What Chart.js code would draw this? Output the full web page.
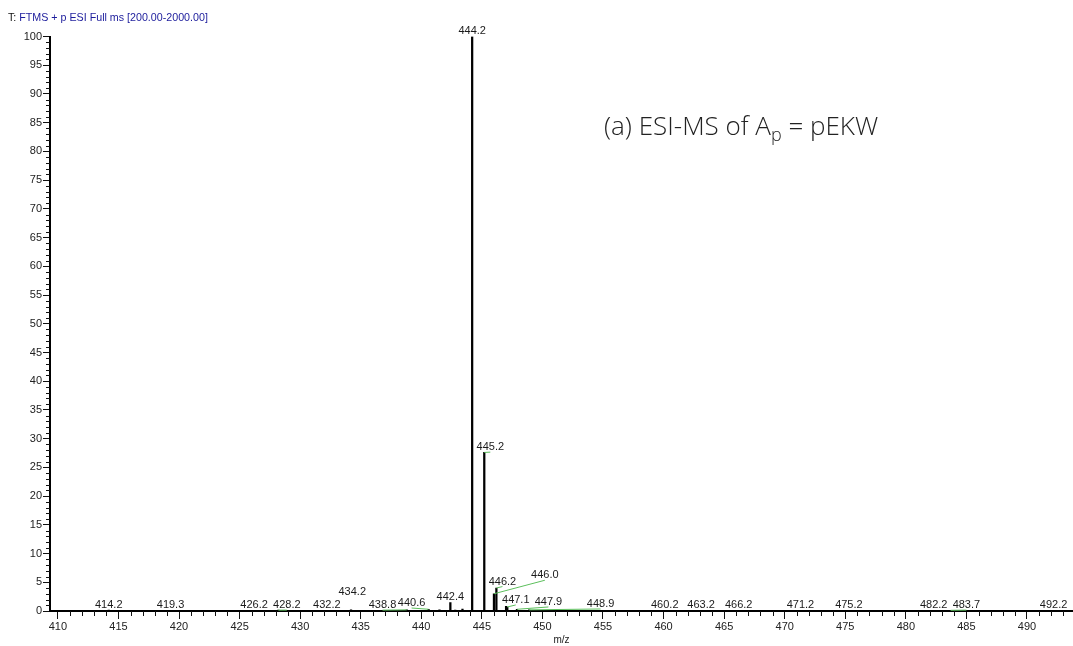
<!DOCTYPE html>
<html>
<head>
<meta charset="utf-8">
<title>ESI-MS spectrum</title>
<script src="https://cdn.jsdelivr.net/npm/chart.js@4/dist/chart.umd.min.js"></script>
<style>
  html, body { margin: 0; padding: 0; background: #fff; }
  #wrap { position: relative; width: 1073px; height: 646px; }
  #spec { position: absolute; left: 0; top: 0; }
  #scan {
    position: absolute; left: 8px; top: 11px;
    font: 10.7px "Liberation Sans", Arial, sans-serif; color: #1c1c9c; white-space: nowrap;
  }
  #scan b { font-weight: normal; color: #111; }
  #caption {
    position: absolute; left: 604px; top: 112px;
    font: 300 26px "Open Sans", sans-serif; color: #222; white-space: nowrap; line-height: 1;
  }
  #caption sub { font-size: 18px; vertical-align: -6px; line-height: 0; }
</style>
</head>
<body>
<div id="wrap">
  <canvas id="spec" width="1073" height="646"></canvas>
  <div id="scan"><b>T:</b> FTMS + p ESI Full ms [200.00-2000.00]</div>
  <div id="caption">(a) ESI-MS of A<sub>p</sub> = pEKW</div>
</div>
<script>
// Centroid peaks: m/z and relative abundance (%)
const peakMz  = [414.2, 419.3, 426.2, 428.2, 432.2, 434.2, 438.8, 440.6, 441.5, 442.4, 442.8, 443.4,
                 444.2, 445.2, 446.0, 446.2, 447.0, 447.1, 447.9, 448.9,
                 460.2, 463.2, 466.2, 471.2, 475.2, 482.2, 483.7, 492.2];
const peakInt = [0.15, 0.12, 0.12, 0.15, 0.12, 0.2, 0.2, 0.3, 0.2, 1.45, 0.15, 0.35,
                 100, 27.6, 3.0, 4.0, 0.8, 0.7, 0.3, 0.2,
                 0.12, 0.12, 0.12, 0.1, 0.1, 0.1, 0.12, 0.1];

// Peak annotations: which peak, and where its label sits (m/z, abundance)
const labelPeak = [414.2, 419.3, 426.2, 428.2, 432.2, 434.2, 438.8, 440.6, 442.4, 444.2, 445.2,
                   446.2, 446.0, 447.1, 447.9, 448.9, 460.2, 463.2, 466.2, 471.2, 475.2, 482.2, 483.7, 492.2];
const labelAtMz = [414.2, 419.3, 426.2, 428.9, 432.2, 434.3, 436.8, 439.2, 442.4, 444.2, 445.7,
                   446.7, 450.2, 447.8, 450.5, 454.8, 460.1, 463.1, 466.2, 471.3, 475.3, 482.3, 485.0, 492.2];
const labelAtInt = [0.5, 0.5, 0.5, 0.5, 0.5, 2.8, 0.5, 0.87, 1.9, 100.5, 28.0,
                    4.6, 5.7, 1.4, 1.05, 0.7, 0.5, 0.5, 0.5, 0.5, 0.5, 0.5, 0.5, 0.5];

// Axis ticks
const xTicks = [410, 415, 420, 425, 430, 435, 440, 445, 450, 455, 460, 465, 470, 475, 480, 485, 490];
const yTicks = [0, 5, 10, 15, 20, 25, 30, 35, 40, 45, 50, 55, 60, 65, 70, 75, 80, 85, 90, 95, 100];
const xRange = [409.35, 493.8];

const AXIS_FONT = { family: '"Liberation Sans", Arial, sans-serif', size: 11 };

// Minor ticks every 1 unit on both axes
const minorTicks = {
  id: 'minorTicks',
  afterDraw(chart) {
    const { ctx, scales: { x, y }, chartArea } = chart;
    ctx.save();
    ctx.strokeStyle = '#111';
    ctx.lineWidth = 1;
    ctx.beginPath();
    for (let v = Math.ceil(xRange[0]); v <= xRange[1]; v++) {
      if (v % 5 === 0) continue;
      const px = Math.round(x.getPixelForValue(v)) + 0.5;
      ctx.moveTo(px, chartArea.bottom);
      ctx.lineTo(px, chartArea.bottom + 5);
    }
    for (let v = 1; v < 100; v++) {
      if (v % 5 === 0) continue;
      const py = Math.round(y.getPixelForValue(v)) + 0.5;
      ctx.moveTo(chartArea.left, py);
      ctx.lineTo(chartArea.left - 4, py);
    }
    ctx.stroke();
    ctx.restore();
  }
};

// Peak labels with green leader lines where a label is moved off its peak
const peakLabels = {
  id: 'peakLabels',
  afterDatasetsDraw(chart) {
    const { ctx, scales: { x, y } } = chart;
    ctx.save();
    ctx.font = '11px "Liberation Sans", Arial, sans-serif';
    ctx.textAlign = 'center';
    ctx.textBaseline = 'alphabetic';
    labelPeak.forEach((mz, i) => {
      const k = peakMz.indexOf(mz);
      const tx = x.getPixelForValue(labelAtMz[i]);
      const ty = y.getPixelForValue(labelAtInt[i]);
      if (Math.abs(labelAtMz[i] - mz) > 0.3 && k >= 0) {
        ctx.strokeStyle = '#5cbf5c';
        ctx.lineWidth = 1;
        ctx.beginPath();
        ctx.moveTo(x.getPixelForValue(mz), y.getPixelForValue(peakInt[k]));
        ctx.lineTo(tx, ty + 2);
        ctx.stroke();
      }
      ctx.fillStyle = '#1a1a1a';
      ctx.fillText(mz.toFixed(1), tx, ty);
    });
    ctx.restore();
  }
};

new Chart(document.getElementById('spec'), {
  type: 'bar',
  data: {
    datasets: [{
      data: peakMz.map((m, i) => ({ x: m, y: peakInt[i] })),
      backgroundColor: '#000',
      borderWidth: 0,
      barThickness: 1.6
    }]
  },
  options: {
    responsive: false,
    animation: false,
    events: [],
    layout: { padding: { top: 36.5, right: 0, left: 0, bottom: 0 } },
    plugins: { legend: { display: false }, tooltip: { enabled: false } },
    scales: {
      x: {
        type: 'linear',
        min: xRange[0], max: xRange[1],
        offset: false,
        afterBuildTicks(s) { s.ticks = xTicks.map(v => ({ value: v })); },
        afterFit(s) { s.height = 35; },
        grid: { display: true, drawOnChartArea: false, offset: false, tickLength: 8, tickColor: '#111', tickWidth: 1 },
        border: { display: true, color: '#000', width: 2 },
        ticks: { color: '#222', font: AXIS_FONT, padding: 1, maxRotation: 0, autoSkip: false },
        title: { display: true, text: 'm/z', color: '#222', font: { family: AXIS_FONT.family, size: 10 }, padding: { top: 0, bottom: 0 } }
      },
      y: {
        min: 0, max: 100,
        afterBuildTicks(s) { s.ticks = yTicks.map(v => ({ value: v })); },
        afterFit(s) { s.width = 50; },
        grid: { display: true, drawOnChartArea: false, tickLength: 7, tickColor: '#111', tickWidth: 1 },
        border: { display: true, color: '#000', width: 2 },
        ticks: { color: '#222', font: AXIS_FONT, padding: 1, autoSkip: false }
      }
    }
  },
  plugins: [minorTicks, peakLabels]
});
</script>
</body>
</html>
